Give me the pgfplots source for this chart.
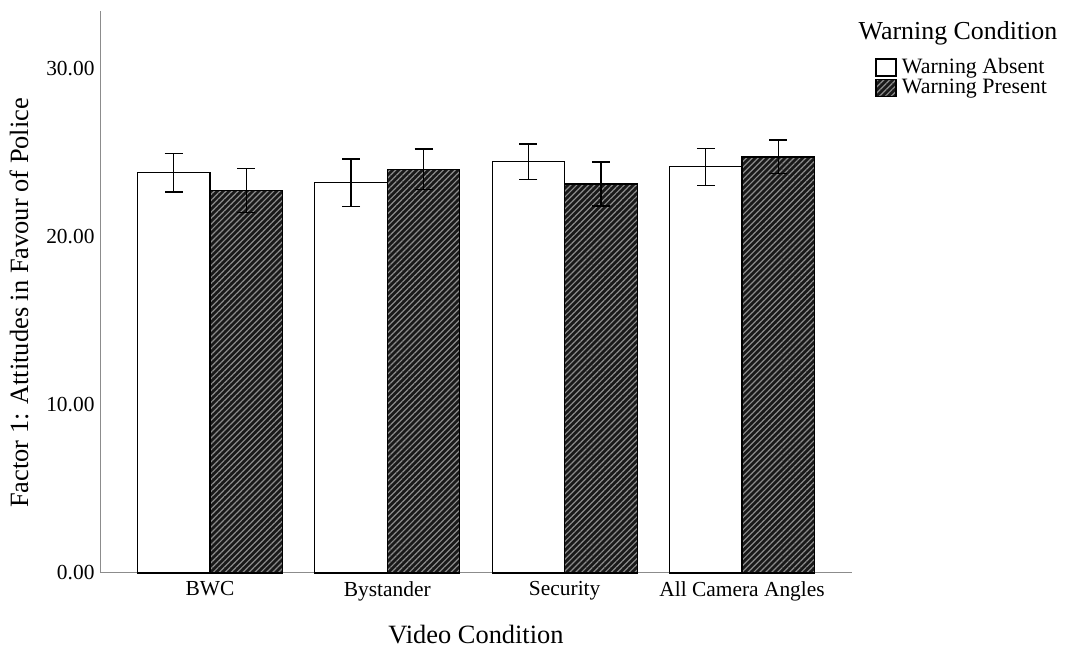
\documentclass[border=0pt]{standalone}
\usepackage{pgfplots}
\pgfplotsset{compat=1.18}
\usepackage{fontspec}
\setmainfont{Liberation Serif}
\usetikzlibrary{patterns.meta}
\begin{document}
\begin{tikzpicture}[x=1bp,y=1bp]
\path[use as bounding box] (0,0) rectangle (1069,649);
\begin{axis}[
  at={(100bp,76bp)}, anchor=south west,
  scale only axis, width=752bp, height=562bp,
  xmin=-0.62, xmax=3.62, ymin=0, ymax=33.39,
  axis x line*=bottom, axis y line*=left,
  axis line style={draw=black!45, line width=1pt},
  xtick={0,1,2,3},
  xticklabels={BWC,Bystander,Security,All Camera Angles},
  ytick={0,10,20,30},
  yticklabels={0.00,10.00,20.00,30.00},
  major tick length=0pt,
  tick label style={font=\fontsize{21.5}{21.5}\selectfont},
  xticklabel style={yshift=-5bp},
  yticklabel style={xshift=-2bp},
  ybar=0pt, bar width=72.5bp,
  xlabel={Video Condition},
  ylabel={Factor 1: Attitudes in Favour of Police},
  label style={font=\fontsize{26.5}{26.5}\selectfont},
  xlabel style={at={(axis description cs:0.5,0)}, anchor=center, yshift=-62bp},
  ylabel style={at={(axis description cs:-0.1077,0.4805)}, anchor=center},
  legend style={draw=none, fill=none, at={(axis description cs:1.0306,0.916)}, anchor=north west,
    font=\fontsize{22}{22}\selectfont, inner sep=0pt, row sep=2.5bp,
    nodes={inner sep=0pt, anchor=west, text depth=3bp, text height=14bp}},
  legend image code/.code={\draw[#1] (0bp,-8.5bp) rectangle (20bp,8.5bp);},
  legend cell align=left,
  clip=false,
]
\addplot[draw=black, line width=1.3pt, fill=white,
  error bars/.cd, y dir=both, y explicit,
  error bar style={black, line width=1.3pt},
  error mark options={rotate=90, mark size=9bp, line width=1.3pt, black}]
  coordinates {(0,23.79) +- (0,1.15) (1,23.19) +- (0,1.40) (2,24.44) +- (0,1.05) (3,24.13) +- (0,1.10)};
\addplot[draw=black, line width=1.3pt, fill=black!90,
  postaction={pattern={Lines[angle=45,distance=4.2bp,line width=1.2bp]}, pattern color=black!45},
  error bars/.cd, y dir=both, y explicit,
  error bar style={black, line width=1.3pt},
  error mark options={rotate=90, mark size=9bp, line width=1.3pt, black}]
  coordinates {(0,22.72) +- (0,1.31) (1,23.99) +- (0,1.20) (2,23.11) +- (0,1.30) (3,24.72) +- (0,1.00)};
\legend{\ Warning Absent,\ Warning Present}
\node[font=\fontsize{26}{26}\selectfont, anchor=center] at ([xshift=106bp,yshift=-22bp]axis description cs:1,1) {Warning Condition};
\end{axis}
\end{tikzpicture}
\end{document}
